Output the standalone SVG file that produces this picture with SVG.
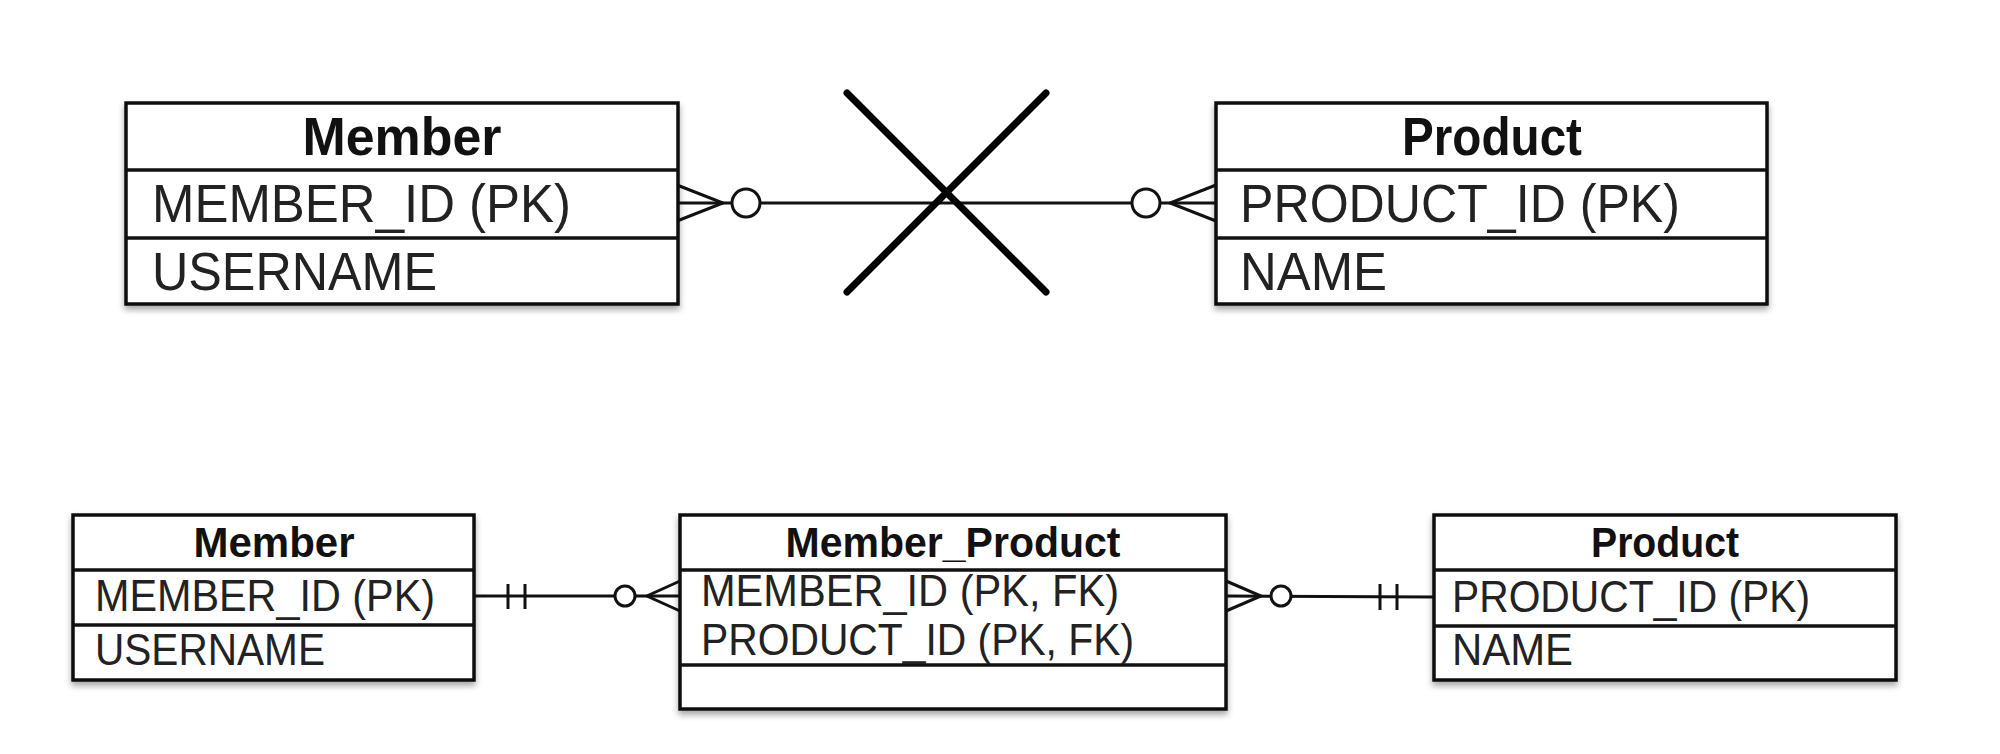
<svg xmlns="http://www.w3.org/2000/svg" width="2000" height="754" viewBox="0 0 2000 754">
<defs>
<filter id="sh" x="-5%" y="-10%" width="110%" height="130%">
<feDropShadow dx="0" dy="4" stdDeviation="3" flood-color="#000" flood-opacity="0.35"/>
</filter>
</defs>
<style>
.box{fill:#fff;stroke:#111;stroke-width:3.5;filter:url(#sh)}
.div{stroke:#111;stroke-width:3.5}
.hd{font-family:"Liberation Sans",Arial,sans-serif;font-weight:bold;fill:#111;text-anchor:middle}
.fd{font-family:"Liberation Sans",Arial,sans-serif;fill:#222}
.big{font-size:54px}
.sm{font-size:44px}
.hbig{font-size:54px}
.hsm{font-size:42px}
.ln{stroke:#111;stroke-width:3;fill:none}
.cir{stroke:#111;stroke-width:3;fill:#fff}
.x{stroke:#000;stroke-width:7;stroke-linecap:round}
</style>
<rect width="2000" height="754" fill="#fff"/>

<g id="connectors">
<!-- top relationship -->
<line class="ln" x1="677" y1="203" x2="1216" y2="203"/>
<polyline class="ln" points="677,185 723,203 677,221"/>
<circle class="cir" cx="746" cy="203" r="14"/>
<polyline class="ln" points="1216,185 1170,203 1216,221"/>
<circle class="cir" cx="1146" cy="203" r="14"/>
<!-- bottom left relationship -->
<line class="ln" x1="473" y1="596" x2="680" y2="596"/>
<line class="ln" x1="508" y1="584" x2="508" y2="609"/>
<line class="ln" x1="525" y1="584" x2="525" y2="609"/>
<polyline class="ln" points="680,581 647,596 680,611"/>
<circle class="cir" cx="625" cy="596" r="10"/>
<!-- bottom right relationship -->
<line class="ln" x1="1226" y1="596" x2="1434" y2="597"/>
<polyline class="ln" points="1226,581 1261,596 1226,611"/>
<circle class="cir" cx="1281" cy="596" r="10"/>
<line class="ln" x1="1380" y1="584" x2="1380" y2="610"/>
<line class="ln" x1="1397" y1="584" x2="1397" y2="610"/>
</g>

<g id="cross">
<line class="x" x1="847" y1="93" x2="1046" y2="292"/>
<line class="x" x1="1046" y1="93" x2="847" y2="292"/>
</g>

<g id="member-top">
<rect class="box" x="126" y="103" width="552" height="201"/>
<line class="div" x1="126" y1="170" x2="678" y2="170"/>
<line class="div" x1="126" y1="238" x2="678" y2="238"/>
<text class="hd hbig" x="402" y="155" textLength="199" lengthAdjust="spacingAndGlyphs">Member</text>
<text class="fd big" x="152" y="222" textLength="419" lengthAdjust="spacingAndGlyphs">MEMBER_ID (PK)</text>
<text class="fd big" x="152" y="290" textLength="285" lengthAdjust="spacingAndGlyphs">USERNAME</text>
</g>

<g id="product-top">
<rect class="box" x="1216" y="103" width="551" height="201"/>
<line class="div" x1="1216" y1="170" x2="1767" y2="170"/>
<line class="div" x1="1216" y1="238" x2="1767" y2="238"/>
<text class="hd hbig" x="1492" y="155" textLength="180" lengthAdjust="spacingAndGlyphs">Product</text>
<text class="fd big" x="1240" y="222" textLength="440" lengthAdjust="spacingAndGlyphs">PRODUCT_ID (PK)</text>
<text class="fd big" x="1240" y="290" textLength="147" lengthAdjust="spacingAndGlyphs">NAME</text>
</g>

<g id="member-bottom">
<rect class="box" x="73" y="515" width="401" height="165"/>
<line class="div" x1="73" y1="570" x2="474" y2="570"/>
<line class="div" x1="73" y1="625" x2="474" y2="625"/>
<text class="hd hsm" x="274" y="557" textLength="161" lengthAdjust="spacingAndGlyphs">Member</text>
<text class="fd sm" x="95" y="611" textLength="340" lengthAdjust="spacingAndGlyphs">MEMBER_ID (PK)</text>
<text class="fd sm" x="95" y="665" textLength="230" lengthAdjust="spacingAndGlyphs">USERNAME</text>
</g>

<g id="member-product">
<rect class="box" x="680" y="515" width="546" height="194"/>
<line class="div" x1="680" y1="570" x2="1226" y2="570"/>
<line class="div" x1="680" y1="665" x2="1226" y2="665"/>
<text class="hd hsm" x="953" y="557" textLength="335" lengthAdjust="spacingAndGlyphs">Member_Product</text>
<text class="fd sm" x="701" y="606" textLength="418" lengthAdjust="spacingAndGlyphs">MEMBER_ID (PK, FK)</text>
<text class="fd sm" x="701" y="655" textLength="433" lengthAdjust="spacingAndGlyphs">PRODUCT_ID (PK, FK)</text>
</g>

<g id="product-bottom">
<rect class="box" x="1434" y="515" width="462" height="165"/>
<line class="div" x1="1434" y1="570" x2="1896" y2="570"/>
<line class="div" x1="1434" y1="626" x2="1896" y2="626"/>
<text class="hd hsm" x="1665" y="557" textLength="148" lengthAdjust="spacingAndGlyphs">Product</text>
<text class="fd sm" x="1452" y="612" textLength="358" lengthAdjust="spacingAndGlyphs">PRODUCT_ID (PK)</text>
<text class="fd sm" x="1452" y="665" textLength="121" lengthAdjust="spacingAndGlyphs">NAME</text>
</g>
</svg>
